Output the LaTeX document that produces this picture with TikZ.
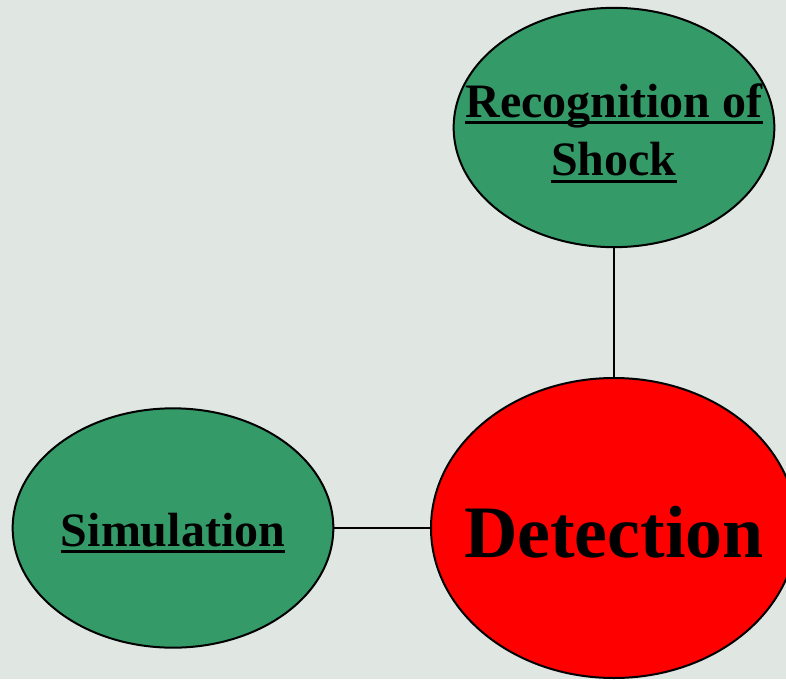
\documentclass[tikz,border=0pt]{standalone}
\usepackage{fontspec}
\setmainfont{Liberation Serif}
\usepackage{xcolor}
\usepackage{tikz}
\usetikzlibrary{shapes,positioning}

\definecolor{slidebg}{HTML}{E0E6E2}
\definecolor{leafgreen}{HTML}{349A68}
\definecolor{hubred}{HTML}{FF0000}

% thick underline, as in the slide
\newcommand{\thickul}[1]{\leavevmode\setbox0\hbox{#1}\rlap{\rule[-5pt]{\wd0}{2.3pt}}\box0}

\begin{document}
\begin{tikzpicture}[x=0.75pt,y=-0.75pt,
    bubble/.style={ellipse, draw=black, line width=1.5pt, inner sep=0pt},
    leaf/.style={bubble, fill=leafgreen, minimum width=240.5pt, minimum height=179.5pt},
    hub/.style={bubble, fill=hubred, minimum width=274.5pt, minimum height=225pt},
    link/.style={draw=black, line width=2.2pt},
    leaftext/.style={font=\bfseries\fontsize{36}{42}\selectfont, align=center, inner sep=0pt},
    hubtext/.style={font=\bfseries\fontsize{55.5}{60}\selectfont, inner sep=0pt}]

    % background
    \path[use as bounding box, fill=slidebg] (0,0) rectangle (786,679);
    \clip (0,0) rectangle (786,679);

    % bubbles
    \node[leaf] (recog) at (614,127.5) {};
    \node[leaf] (simul) at (173,528) {};
    \node[hub] (detect) at (614,528) {};

    % links
    \draw[link] (recog) -- (detect);
    \draw[link] (simul) -- (detect);

    % labels
    \node[leaftext] (recogtext) at (614,133) {\thickul{Recognition of}\\[2pt]\thickul{Shock}};
    \node[leaftext] (simultext) at (173,533) {\thickul{Simulation}};
    \node[hubtext] (detecttext) at (614,532) {Detection};
\end{tikzpicture}
\end{document}
